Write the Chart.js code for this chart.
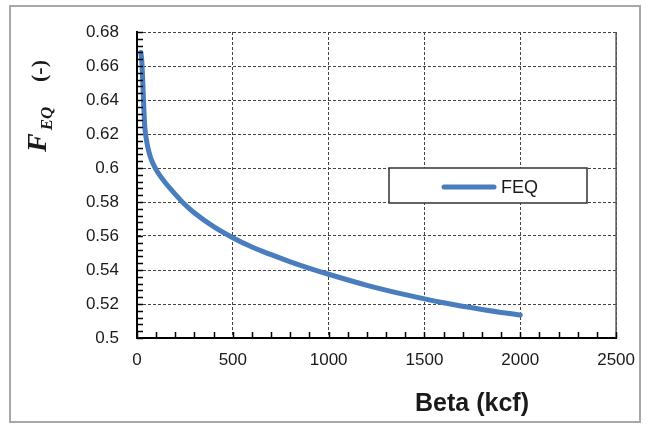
<!DOCTYPE html>
<html lang="en">
<head>
<meta charset="UTF-8">
<title>FEQ vs Beta</title>
<style>
    body { margin: 0; background: #fff; }
    #wrap { width: 647px; height: 425px; }
</style>
</head>
<body>
<div id="wrap"><canvas id="chart" width="647" height="425"></canvas></div>
<script src="https://cdn.jsdelivr.net/npm/chart.js"></script>
<script>
    // values
    var betaValues = [20, 25, 30, 35, 40, 50, 60, 70, 80, 100, 120, 150, 200, 250, 300, 400, 500,
                      600, 700, 800, 900, 1000, 1200, 1400, 1600, 1800, 2000];
    var feqValues = [0.668, 0.663, 0.651, 0.637, 0.625, 0.616, 0.6105, 0.6065, 0.6035, 0.5990, 0.5955, 0.5910, 0.5845, 0.5785, 0.5735, 0.5655, 0.5590,
                     0.5535, 0.5490, 0.5448, 0.5410, 0.5375, 0.5310, 0.5255, 0.5207, 0.5168, 0.5135];
    var xTicks = [0, 500, 1000, 1500, 2000, 2500];
    var yTicks = [0.5, 0.52, 0.54, 0.56, 0.58, 0.6, 0.62, 0.64, 0.66, 0.68];
    var seriesName = 'FEQ';

    var lineBlue = '#4a7dbd';
    var tickFont = { family: 'Liberation Sans, Arial, sans-serif', size: 17 };

    // inner tick marks, outer frame, axis titles and legend box
    var decorations = {
        id: 'decorations',
        afterDraw: function (chart) {
            var ctx = chart.ctx;
            var xs = chart.scales.x, ys = chart.scales.y;
            var area = chart.chartArea;
            var i, p;

            ctx.save();
            // right edge of the plot
            ctx.strokeStyle = '#555';
            ctx.lineWidth = 1.5;
            ctx.beginPath();
            ctx.moveTo(area.right, area.top);
            ctx.lineTo(area.right, area.bottom);
            ctx.stroke();

            // minor + major ticks pointing into the plot
            ctx.strokeStyle = '#000';
            ctx.lineWidth = 1.5;
            ctx.beginPath();
            for (i = 0; i <= 25; i++) {
                p = Math.round(xs.getPixelForValue(i * 100)) + 0.5;
                ctx.moveTo(p, area.bottom);
                ctx.lineTo(p, area.bottom - 6);
            }
            for (i = 0; i <= 45; i++) {
                p = Math.round(ys.getPixelForValue(0.5 + i * 0.004)) + 0.5;
                ctx.moveTo(area.left, p);
                ctx.lineTo(area.left + 6, p);
            }
            ctx.stroke();

            // outer frame
            ctx.strokeStyle = '#a8a8a8';
            ctx.lineWidth = 2;
            ctx.strokeRect(10, 6, 630, 416);

            // x axis title
            ctx.fillStyle = '#1a1a1a';
            ctx.font = 'bold 25px Liberation Sans, Arial, sans-serif';
            ctx.textAlign = 'center';
            ctx.textBaseline = 'middle';
            ctx.fillText('Beta (kcf)', 472, 404);

            // y axis title with subscript
            ctx.save();
            ctx.translate(46, 152);
            ctx.rotate(-Math.PI / 2);
            ctx.textAlign = 'left';
            ctx.textBaseline = 'alphabetic';
            ctx.font = 'bold italic 28px Liberation Serif, Times New Roman, serif';
            ctx.fillText('F', 0, 0);
            var wF = ctx.measureText('F').width;
            ctx.font = 'bold italic 17px Liberation Serif, Times New Roman, serif';
            ctx.fillText('EQ', wF + 3, 6);
            ctx.font = 'bold 22px Liberation Serif, Times New Roman, serif';
            ctx.fillText('(-)', 70, 0);
            ctx.restore();

            // legend
            var ds = chart.data.datasets[0];
            ctx.fillStyle = '#fff';
            ctx.fillRect(389, 168, 198, 35);
            ctx.strokeStyle = '#333';
            ctx.lineWidth = 1.5;
            ctx.strokeRect(389, 168, 198, 35);
            ctx.strokeStyle = ds.borderColor;
            ctx.lineWidth = 5;
            ctx.lineCap = 'round';
            ctx.beginPath();
            ctx.moveTo(444, 187);
            ctx.lineTo(494, 187);
            ctx.stroke();
            ctx.fillStyle = '#1a1a1a';
            ctx.font = '18px Liberation Sans, Arial, sans-serif';
            ctx.textAlign = 'left';
            ctx.textBaseline = 'middle';
            ctx.fillText(ds.label, 501, 188);
            ctx.restore();
        }
    };

    var points = betaValues.map(function (b, i) { return { x: b, y: feqValues[i] }; });

    new Chart(document.getElementById('chart').getContext('2d'), {
        type: 'line',
        data: {
            datasets: [{
                label: seriesName,
                data: points,
                borderColor: lineBlue,
                borderWidth: 5,
                borderCapStyle: 'round',
                borderJoinStyle: 'round',
                pointRadius: 0,
                fill: false,
                cubicInterpolationMode: 'monotone'
            }]
        },
        options: {
            responsive: false,
            animation: false,
            devicePixelRatio: 1,
            layout: { autoPadding: false, padding: { left: 0, right: 27, top: 32, bottom: 0 } },
            plugins: { legend: { display: false }, tooltip: { enabled: false } },
            scales: {
                x: {
                    type: 'linear',
                    min: 0,
                    max: 2500,
                    afterBuildTicks: function (s) { s.ticks = xTicks.map(function (v) { return { value: v }; }); },
                    afterFit: function (s) { s.height = 87; },
                    ticks: { color: '#1a1a1a', font: tickFont, padding: 12, maxRotation: 0,
                             callback: function (v) { return String(v); } },
                    grid: { color: '#444', lineWidth: 1, drawTicks: false },
                    border: { color: '#000', width: 2, dash: [3, 2] }
                },
                y: {
                    min: 0.5,
                    max: 0.68,
                    afterBuildTicks: function (s) { s.ticks = yTicks.map(function (v) { return { value: v }; }); },
                    afterFit: function (s) { s.width = 137; },
                    ticks: { color: '#1a1a1a', font: tickFont, padding: 18,
                             callback: function (v) { return String(v); } },
                    grid: { color: '#444', lineWidth: 1, drawTicks: false },
                    border: { color: '#000', width: 2, dash: [3, 2] }
                }
            }
        },
        plugins: [decorations]
    });
</script>
</body>
</html>
